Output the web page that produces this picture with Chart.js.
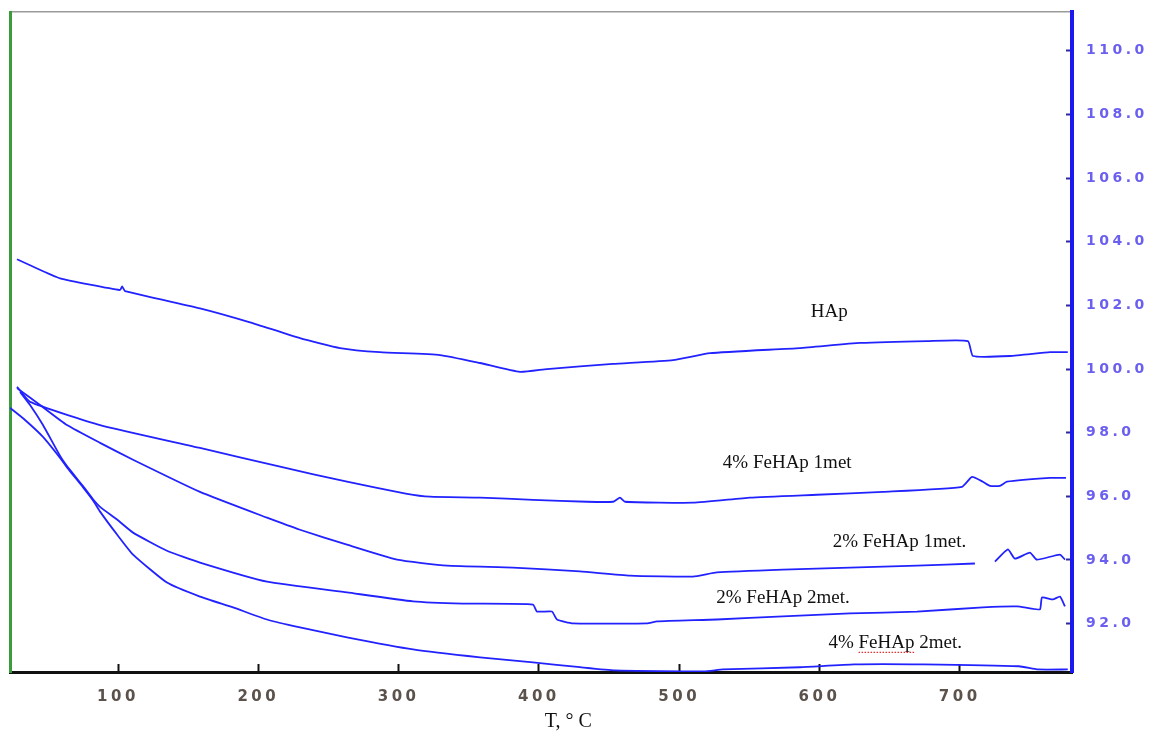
<!DOCTYPE html>
<html>
<head>
<meta charset="utf-8">
<script src="https://cdn.jsdelivr.net/npm/chart.js@4.4.1/dist/chart.umd.min.js"></script>
<style>
  html, body { margin: 0; background: #fff; }
  canvas { display: block; }
</style>
</head>
<body>
<canvas id="tga" width="1154" height="737"></canvas>
<script>
// TGA curves: temperature (°C) against residual mass (%)
var hapT    = [28, 37.3, 58.7, 101.4, 102.9, 105, 158.4, 194.1, 229.7, 258.2, 286.7, 329.5, 358, 386.5, 405.8, 452.8, 495.6, 522, 586, 629, 676.6, 705.8, 709.4, 735.8, 764.3, 777];
var hapMass = [103.45, 103.26, 102.85, 102.48, 102.6, 102.45, 101.91, 101.47, 100.97, 100.66, 100.53, 100.44, 100.19, 99.91, 100.0, 100.16, 100.28, 100.5, 100.66, 100.82, 100.88, 100.88, 100.41, 100.41, 100.53, 100.53];

var fe4m1T    = [28, 37.3, 87.2, 158.4, 215.5, 263.2, 306, 322.4, 358, 395.8, 434.3, 452.8, 457.8, 461.4, 510, 550.5, 598.2, 645.3, 701.6, 708.7, 716.5, 721.5, 728.6, 733.6, 764.3, 775.7];
var fe4m1Mass = [99.44, 98.97, 98.24, 97.52, 96.93, 96.46, 96.08, 95.99, 95.96, 95.89, 95.83, 95.83, 95.96, 95.83, 95.8, 95.96, 96.05, 96.14, 96.3, 96.61, 96.46, 96.33, 96.33, 96.46, 96.58, 96.58];

var fe2m1T    = [28, 44.4, 63.6, 87.2, 110.7, 158.4, 206.2, 229.7, 263.2, 298.9, 334.5, 381.5, 429.3, 464.9, 509.8, 526.9, 573.9, 621.7, 669.5, 710.8, 718, 725.1, 734.3, 739.3, 750, 755, 771.4, 775];
var fe2m1Mass = [99.4, 98.87, 98.24, 97.68, 97.15, 96.14, 95.33, 94.95, 94.48, 94.01, 93.82, 93.76, 93.64, 93.51, 93.48, 93.61, 93.7, 93.76, 93.82, 93.89, null, 93.95, 94.33, 94.04, 94.23, 94.01, 94.17, 94.01];

var fe2m2T    = [30.2, 37.3, 46.5, 58.7, 63.6, 75.1, 82.2, 87.2, 99.3, 110.7, 134.9, 158.4, 206.2, 263.2, 310.3, 345.9, 395.8, 398.6, 409.3, 412.9, 424.3, 477, 484.2, 526.9, 573.9, 621.7, 669.5, 716.5, 740.8, 750, 757.2, 758.6, 766.4, 771.4, 775];
var fe2m2Mass = [99.28, 98.87, 98.24, 97.27, 96.95, 96.32, 95.91, 95.67, 95.27, 94.86, 94.29, 93.92, 93.32, 92.98, 92.7, 92.63, 92.6, 92.38, 92.38, 92.13, 92.01, 92.01, 92.07, 92.13, 92.23, 92.32, 92.38, 92.51, 92.54, 92.48, 92.45, 92.82, 92.76, 92.85, 92.54];

var fe4m2T    = [23, 33.7, 46.5, 58.7, 63.6, 75.1, 82.2, 87.2, 99.3, 110.7, 134.9, 158.4, 182, 206.2, 229.7, 263.2, 310.3, 358, 395.8, 429.3, 454.2, 517.7, 531.2, 586.1, 624.6, 673.8, 742.2, 755.7, 777];
var fe4m2Mass = [98.78, 98.4, 97.87, 97.21, 96.91, 96.28, 95.87, 95.52, 94.8, 94.17, 93.29, 92.85, 92.51, 92.13, 91.88, 91.57, 91.19, 90.94, 90.78, 90.63, 90.53, 90.5, 90.56, 90.63, 90.72, 90.72, 90.66, 90.56, 90.56];

var xTicks = [100, 200, 300, 400, 500, 600, 700];
var yTicks = [92, 94, 96, 98, 100, 102, 104, 106, 108, 110];

// where each curve name is written, in data units
var curveNotes = [
  { text: 'HAp',            t: 607, m: 101.8 },
  { text: '4% FeHAp 1met',  t: 577, m: 97.05 },
  { text: '2% FeHAp 1met.', t: 657, m: 94.58 },
  { text: '2% FeHAp 2met.', t: 574, m: 92.82 },
  { text: '4% FeHAp 2met.', t: 654, m: 91.38, underline: 'FeHAp' }
];

function points(ts, ms) {
  return ts.map(function (t, i) { return { x: t, y: ms[i] }; });
}

function curve(name, ts, ms) {
  return {
    label: name,
    data: points(ts, ms),
    borderColor: '#2222ff',
    borderWidth: 1.8,
    pointRadius: 0,
    fill: false,
    spanGaps: false,
    tension: 0.15,
    yAxisID: 'y'
  };
}

// scales keep their own box size; no extra room for overhanging labels
function noPad(s) {
  s.paddingTop = 0;
  s.paddingBottom = 0;
  s.paddingLeft = 0;
  s.paddingRight = 0;
}

var notesPlugin = {
  id: 'curveNotes',
  beforeDraw: function (chart) { chart.ctx.letterSpacing = '3.5px'; },
  beforeDatasetsDraw: function (chart) { chart.ctx.letterSpacing = '0px'; },
  afterDraw: function (chart) {
    var ctx = chart.ctx, sx = chart.scales.x, sy = chart.scales.y;
    ctx.save();
    ctx.letterSpacing = '0px';
    ctx.font = '19px "Liberation Serif"';
    ctx.fillStyle = '#111';
    ctx.textAlign = 'center';
    ctx.textBaseline = 'middle';
    curveNotes.forEach(function (n) {
      var cx = sx.getPixelForValue(n.t), cy = sy.getPixelForValue(n.m);
      ctx.fillText(n.text, cx, cy);
      if (n.underline) {
        var full = ctx.measureText(n.text).width;
        var start = n.text.indexOf(n.underline);
        var x0 = cx - full / 2 + ctx.measureText(n.text.slice(0, start)).width;
        var x1 = x0 + ctx.measureText(n.underline).width;
        ctx.save();
        ctx.strokeStyle = '#e03030';
        ctx.lineWidth = 1.2;
        ctx.setLineDash([1.5, 1.5]);
        ctx.beginPath();
        ctx.moveTo(x0, cy + 9);
        ctx.lineTo(x1, cy + 9);
        ctx.stroke();
        ctx.restore();
      }
    });
    // axis title under the temperature ticks
    ctx.font = '20px "Liberation Serif"';
    ctx.fillText('T, \u00b0 C', sx.getPixelForValue(421), chart.chartArea.bottom + 50);
    ctx.restore();
  }
};

new Chart(document.getElementById('tga'), {
  type: 'line',
  data: {
    datasets: [
      curve('HAp', hapT, hapMass),
      curve('4% FeHAp 1met', fe4m1T, fe4m1Mass),
      curve('2% FeHAp 1met.', fe2m1T, fe2m1Mass),
      curve('2% FeHAp 2met.', fe2m2T, fe2m2Mass),
      curve('4% FeHAp 2met.', fe4m2T, fe4m2Mass)
    ]
  },
  options: {
    responsive: false,
    animation: false,
    layout: { padding: { left: 10, top: 12, right: 0, bottom: 0 } },
    plugins: {
      legend: { display: false },
      tooltip: { enabled: false }
    },
    scales: {
      x: {
        type: 'linear',
        position: 'bottom',
        min: 23,
        max: 780,
        afterBuildTicks: function (s) { s.ticks = xTicks.map(function (v) { return { value: v }; }); },
        afterFit: function (s) { s.height = 65; noPad(s); },
        grid: { drawOnChartArea: false, tickLength: -8, tickWidth: 2, tickColor: '#111' },
        border: { color: '#111', width: 3 },
        ticks: {
          padding: 24,
          maxRotation: 0,
          color: '#5b524c',
          font: { family: 'DejaVu Sans', size: 15, weight: 'bold' }
        }
      },
      xTop: {
        type: 'linear',
        position: 'top',
        min: 23,
        max: 780,
        afterFit: function (s) { s.height = 0; noPad(s); },
        grid: { display: false },
        ticks: { display: false },
        border: { color: '#9a9a9a', width: 1.5 }
      },
      yLeft: {
        type: 'linear',
        position: 'left',
        min: 90.48,
        max: 111.22,
        afterFit: function (s) { s.width = 0; noPad(s); },
        grid: { display: false },
        ticks: { display: false },
        border: { color: '#3c9c3c', width: 3 }
      },
      y: {
        type: 'linear',
        position: 'right',
        min: 90.48,
        max: 111.22,
        afterBuildTicks: function (s) { s.ticks = yTicks.map(function (v) { return { value: v }; }); },
        afterFit: function (s) { s.width = 82; noPad(s); },
        grid: { drawOnChartArea: false, tickLength: -6, tickWidth: 2, tickColor: '#2a2a9a' },
        border: { color: '#1a1af0', width: 4 },
        ticks: {
          padding: 20,
          color: '#6b5ff0',
          font: { family: 'DejaVu Sans', size: 14, weight: 'bold' },
          callback: function (v) { return Number(v).toFixed(1); }
        }
      }
    }
  },
  plugins: [notesPlugin]
});
</script>
</body>
</html>
